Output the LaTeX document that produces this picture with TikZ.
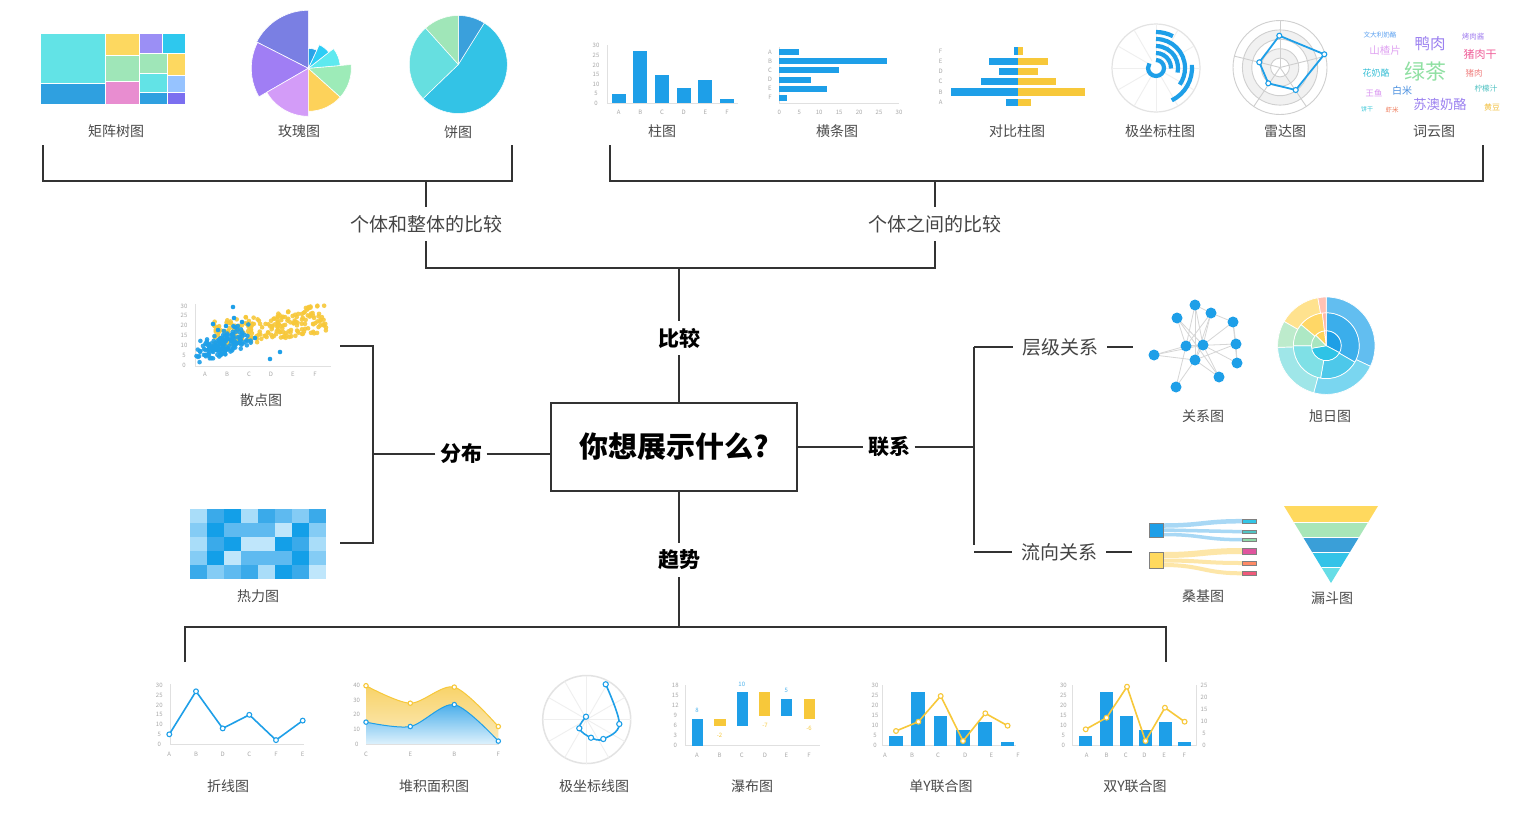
\documentclass[tikz,border=0pt]{standalone}
\usepackage{fontspec}
\setmainfont{Noto Sans CJK SC}
\usetikzlibrary{calc}
\definecolor{cb}{HTML}{1E9FE8}
\definecolor{cy}{HTML}{F7C83A}
\definecolor{axc}{HTML}{E0E0E0}
\definecolor{tkc}{HTML}{A8A8A8}
\definecolor{labc}{HTML}{4A4A4A}
\definecolor{subc}{HTML}{444444}
\definecolor{linec}{HTML}{333333}
\definecolor{tmA}{HTML}{62E3E6}\definecolor{tmB}{HTML}{2FA0E0}\definecolor{tmC}{HTML}{FDD860}
\definecolor{tmD}{HTML}{9B8FF5}\definecolor{tmE}{HTML}{2EC8EE}\definecolor{tmF}{HTML}{9FE6B8}
\definecolor{tmG}{HTML}{E88DD0}\definecolor{tmH}{HTML}{96C3FF}\definecolor{tmI}{HTML}{7B6FF0}
\definecolor{roA}{HTML}{7A7FE3}\definecolor{roB}{HTML}{A07EF4}\definecolor{roC}{HTML}{D39CF8}
\definecolor{roD}{HTML}{FDD25A}\definecolor{roE}{HTML}{9DEBB8}\definecolor{roF}{HTML}{5EE9EF}
\definecolor{roG}{HTML}{2DCDF6}\definecolor{roH}{HTML}{2AA3E8}
\definecolor{piA}{HTML}{33C3E6}\definecolor{piB}{HTML}{3AA0DC}\definecolor{piC}{HTML}{A0E6B8}\definecolor{piD}{HTML}{66DFE0}
\definecolor{hm1}{HTML}{139FE8}\definecolor{hm2}{HTML}{3AAAEA}\definecolor{hm3}{HTML}{5EBAF0}
\definecolor{hm4}{HTML}{84CCF5}\definecolor{hm5}{HTML}{A9DDF9}\definecolor{hm6}{HTML}{BFE6FB}
\definecolor{suA}{HTML}{1E9FE6}\definecolor{suB}{HTML}{2EC3E6}\definecolor{suC}{HTML}{A8E6C0}\definecolor{suD}{HTML}{FFD35A}\definecolor{suE}{HTML}{FFB0A0}
\definecolor{svA}{HTML}{3BAEEB}\definecolor{svB}{HTML}{4DC8EA}\definecolor{svC}{HTML}{7FE0E6}\definecolor{svD}{HTML}{ADE8C4}\definecolor{svE}{HTML}{FFD766}\definecolor{svF}{HTML}{FFB8A8}
\definecolor{swA}{HTML}{62BEF0}\definecolor{swB}{HTML}{7AD6F0}\definecolor{swC}{HTML}{9FE6E8}\definecolor{swD}{HTML}{BDEBCC}\definecolor{swE}{HTML}{FFE28E}\definecolor{swF}{HTML}{FFC2B4}
\definecolor{fuA}{HTML}{FFD95E}\definecolor{fuB}{HTML}{A8E6B8}\definecolor{fuC}{HTML}{3A9FD8}\definecolor{fuD}{HTML}{33C3E8}\definecolor{fuE}{HTML}{66DDE6}
\definecolor{skA}{HTML}{33C5E6}\definecolor{skB}{HTML}{4FC4C4}\definecolor{skC}{HTML}{8FD9A8}\definecolor{skD}{HTML}{E0559E}\definecolor{skE}{HTML}{FF8A65}\definecolor{skF}{HTML}{F05A7A}
\definecolor{flB}{HTML}{A8D8F5}\definecolor{flY}{HTML}{FDE6A8}
\definecolor{ayT}{HTML}{F8D266}\definecolor{ayB}{HTML}{FBEBBE}
\definecolor{abT}{HTML}{45ACEA}\definecolor{abB}{HTML}{DDF1FC}
\definecolor{rgr}{HTML}{F1F1F1}\definecolor{rln}{HTML}{CFCFCF}
\definecolor{pcirc}{HTML}{E3E3E3}\definecolor{spk}{HTML}{EFEFEF}
\definecolor{gedge}{HTML}{D6D6D6}
\newcommand\annsec[5]{\fill[#5, draw=white, line width=0.7] (#3:#2) arc[start angle=#3, end angle=#4, radius=#2] -- (#4:#1) arc[start angle=#4, end angle=#3, radius=#1] -- cycle;}
\tikzset{
 tk/.style={font=\fontsize{6}{6}\selectfont, text=tkc, inner sep=0pt},
 clab/.style={font=\fontsize{14}{16}\selectfont, text=labc, inner sep=0pt},
 sub/.style={font=\fontsize{19}{21}\selectfont, text=subc, inner xsep=3pt, inner ysep=8pt},
 cat/.style={font=\fontsize{21}{23}\selectfont\bfseries, text=black, inner xsep=4.5pt, inner ysep=7pt},
 rel/.style={font=\fontsize{19}{21}\selectfont, text=subc, inner xsep=9pt, inner ysep=4pt},
 titlebox/.style={draw=linec, line width=1.2pt, fill=white, minimum width=246pt, minimum height=88pt, font=\fontsize{29}{32}\selectfont\bfseries},
 mainline/.style={line width=1.8pt, draw=linec},
 thinline/.style={line width=1.1pt, draw=linec},
 axl/.style={draw=axc, line width=0.9pt},
 mkb/.style={fill=white, draw=cb, line width=1.1pt},
 mky/.style={fill=white, draw=cy, line width=1.1pt},
}
\begin{document}
\begin{tikzpicture}[x=1pt,y=-1pt]
\useasboundingbox (0,0) rectangle (1520,814);
\fill[white] (0,0) rectangle (1520,814);

% ===== Treemap
\foreach \xa/\ya/\xb/\yb/\cc in {40/33.3/105.5/83.5/tmA, 40/83.5/105.5/104/tmB, 105.5/33.3/139.7/55/tmC, 139.7/33.3/162/53.5/tmD, 162/33.3/185/53.5/tmE, 105.5/55/139.7/81.5/tmF, 105.5/81.5/139.7/104/tmG, 139.7/53.5/167.5/73.7/tmF, 167.5/53.5/185/75.5/tmC, 139.7/73.7/167.5/92/tmA, 167.5/75.5/185/92.5/tmH, 139.7/92/167.5/104/tmB, 167.5/92.5/185/104/tmI}
  \fill[\cc, draw=white, line width=0.9] (\xa,\ya) rectangle (\xb,\yb);
\node[clab] (l-jz) at (116,131) {矩阵树图};

% ===== Rose
\begin{scope}[shift={(308.3,68.3)},yscale=-1]
\foreach \a/\b/\r/\cc in {90/153/58/roA, 153/210/57/roB, 210/270/48/roC, 270/318/43/roD, 318/365/43/roE, 365/398/32/roF, 398/425/26/roG, 425/450/20/roH}
  \fill[\cc, draw=white, line width=0.6] (0,0) -- (\a:\r) arc[start angle=\a, end angle=\b, radius=\r] -- cycle;
\end{scope}
\node[clab] (l-mg) at (299,131) {玫瑰图};

% ===== Pie
\begin{scope}[shift={(458.3,64.5)},yscale=-1]
\foreach \a/\b/\cc in {-136/58/piA, 58/90/piB, 90/132/piC, 132/224/piD}
  \fill[\cc, draw=white, line width=0.5] (0,0) -- (\a:49) arc[start angle=\a, end angle=\b, radius=49] -- cycle;
\end{scope}
\node[clab] (l-bt) at (458,132) {饼图};

% ===== Column chart
\draw[axl] (607.7,45) -- (607.7,103.3) -- (738,103.3);
\foreach \v in {0,5,...,30} \node[tk] (cz-\v) at (596,{103.3-1.92*\v}) {\v};
\foreach \xa/\v in {611.7/5, 633.3/27, 654.7/15, 676.7/8, 698.3/12, 720/2} \fill[cb] (\xa,103.3) rectangle ++(14,{-1.92*\v});
\foreach \l/\xx in {A/618.7,B/640.3,C/662,D/683.7,E/705.3,F/727} \node[tk] (cx-\l) at (\xx,112.7) {\l};
\node[clab] (l-zt) at (662,131) {柱图};

% ===== Horizontal bars
\draw[axl] (779.3,47) -- (779.3,103.3) -- (899,103.3);
\foreach \l/\yy/\v in {A/52.3/5, B/61.3/27, C/70.3/15, D/79.7/8, E/88.7/12, F/97.7/2} {
  \fill[cb] (779.3,\yy-3) rectangle ++({3.99*\v},6);
  \node[tk] (hy-\l) at (770,\yy) {\l};}
\foreach \v in {0,5,...,30} \node[tk] (hx-\v) at ({779.3+3.99*\v},112.7) {\v};
\node[clab] (l-ht) at (837,131) {横条图};

% ===== Compare bars
\foreach \l/\yy/\bl/\yr in {F/51/1013.8/1022.5, E/61.7/988.5/1048, D/71.7/998.7/1038, C/81.3/981.3/1055.5, B/91.8/951.3/1085.4, A/102.2/1006/1030.5} {
  \fill[cb] (\bl,\yy-3.7) rectangle (1018,\yy+3.7);
  \fill[cy] (1018,\yy-3.7) rectangle (\yr,\yy+3.7);
  \node[tk] (dy-\l) at (940.6,\yy) {\l};}
\node[clab] (l-db) at (1017,131) {对比柱图};

% ===== Polar bar
\begin{scope}[shift={(1156,68)},yscale=-1]
\draw[pcirc, line width=1.2] (0,0) circle (44);
\foreach \a in {0,30,...,330} \draw[spk, line width=0.9] (\a:8) -- (\a:44);
\foreach \r/\s/\e in {36/90/62, 36/5/-64, 29/90/-35, 22/90/-12, 15/90/-2, 8/90/-215}
  \draw[cb, line width=4.2] (\s:\r) arc[start angle=\s, end angle=\e, radius=\r];
\end{scope}
\node[clab] (l-jzb) at (1160,131) {极坐标柱图};

% ===== Radar
\begin{scope}[shift={(1280,67.5)},yscale=-1]
\foreach \r/\cc in {47/white, 37.6/rgr, 28.2/white, 18.8/rgr, 9.4/white}
  \filldraw[fill=\cc, draw=rln, line width=0.9] (0,0) circle (\r);
\foreach \a in {90,14,-56,-124,166} \draw[rln, line width=0.9] (0,0) -- (\a:47);
\end{scope}
\draw[cb, line width=1.8] (1279.3,35.7) -- (1324.3,54.3) -- (1295.7,90) -- (1268.3,83.3) -- (1259.3,62.3) -- cycle;
\foreach \p in {(1279.3,35.7),(1324.3,54.3),(1295.7,90),(1268.3,83.3),(1259.3,62.3)} \filldraw[mkb] \p circle (2.5);
\node[clab] (l-ld) at (1285,131) {雷达图};

% ===== Word cloud
\foreach \nm/\xx/\yy/\s/\cc/\t in {
 w1/1380/35/6.6/5AA0F0/文大利奶酪, w2/1430/44/15.5/9B80F0/鸭肉, w3/1473/37/7.5/A380F0/烤肉酱,
 w4/1385/51/10.5/E0A4F2/山楂片, w5/1480/54/11/F0609A/猪肉干, w6/1425/72/21/8FE0A2/绿茶,
 w7/1376/73/9/3AC0D6/花奶酪, w8/1474/73/8.5/F08080/猪肉, w9/1374/93/8.3/D890F0/王鱼,
 w10/1402/91/10/4A90E0/白米, w11/1486/89/7.6/4AC0C0/柠檬汁, w12/1440/104/13.3/9B80F0/苏澳奶酪,
 w13/1367/109/6/3AC8D8/饼干, w14/1392/110/6.5/F08060/虾米, w15/1492/107/8/F2C040/黄豆}
 {\definecolor{wcc}{HTML}{\cc}\node[inner sep=0, text=wcc, font=\fontsize{\s}{\s}\selectfont] (\nm) at (\xx,\yy) {\t};}
\node[clab] (l-cy) at (1434,131) {词云图};

% ===== Top brackets and labels
\coordinate (A1) at (43,145); \coordinate (A2) at (43,181); \coordinate (A3) at (512,181); \coordinate (A4) at (512,145);
\coordinate (B1) at (610,145); \coordinate (B2) at (610,181); \coordinate (B3) at (1483,181); \coordinate (B4) at (1483,145);
\draw[mainline] (A1) -- (A2) -- (A3) -- (A4);
\draw[mainline] (B1) -- (B2) -- (B3) -- (B4);
\node[sub] (pw) at (426,224) {个体和整体的比较};
\node[sub] (gj) at (935,224) {个体之间的比较};
\draw[mainline] (pw.north |- A2) -- (pw.north);
\draw[mainline] (gj.north |- B2) -- (gj.north);
\coordinate (H1) at (426,268); \coordinate (H2) at (935,268);
\draw[mainline] (pw.south) -- (H1) -- (H2) -- (gj.south);

% ===== Center
\node[titlebox] (q) at (674,447) {你想展示什么?};
\node[cat] (bj) at (679,338) {比较};
\node[cat] (fb) at (461,454) {分布};
\node[cat] (lx) at (889,447) {联系};
\node[cat] (qs) at (679,560) {趋势};
\draw[mainline] (bj.north |- H1) -- (bj.north);
\draw[mainline] (bj.south) -- (bj.south |- q.north);
\draw[mainline] (qs.north |- q.south) -- (qs.north);
\coordinate (D1) at (185,627); \coordinate (D2) at (1166,627);
\coordinate (D0) at (185,662); \coordinate (D3) at (1166,662);
\draw[mainline] (qs.south) -- (qs.south |- D1);
\draw[mainline] (D0) -- (D1) -- (D2) -- (D3);
\coordinate (L1) at (340,346); \coordinate (L2) at (373,346); \coordinate (L3) at (373,543); \coordinate (L4) at (340,543);
\draw[mainline] (L1) -- (L2) -- (L3) -- (L4);
\draw[mainline] (fb.west) -- (fb.west -| L2);
\draw[mainline] (fb.east) -- (fb.east -| q.west);
\draw[thinline] (q.east) -- (lx.west);
\coordinate (R1) at (974,347); \coordinate (R2) at (974,545); \coordinate (R3) at (974,552);
\draw[thinline] (lx.east) -- (lx.east -| R1);
\draw[thinline] (R1) -- (R2);
\node[rel] (cj) at (1060,347) {层级关系};
\node[rel] (lxg) at (1059,552) {流向关系};
\coordinate (cje) at (1133,347); \coordinate (lxe) at (1132,552);
\draw[thinline] (R1) -- (cj.west);
\draw[thinline] (cj.east) -- (cje);
\draw[thinline] (R3) -- (lxg.west);
\draw[thinline] (lxg.east) -- (lxe);

% ===== Scatter
\draw[axl] (195,304) -- (195,366) -- (331,366);
\foreach \v in {0,5,...,30} \node[tk] (sy-\v) at (184,{365-1.97*\v}) {\v};
\foreach \l/\xx in {A/205,B/227,C/249,D/271,E/293,F/315} \node[tk] (sx-\l) at (\xx,374) {\l};
\pgfmathsetseed{11}
\foreach \k in {1,...,230}{
  \pgfmathsetmacro\u{rnd}
  \pgfmathsetmacro\px{214+113*\u}
  \pgfmathsetmacro\py{365-1.97*(8+9*\u+14*rnd)}
  \fill[cy, opacity=0.9] (\px,\py) circle (2.3);}
\foreach \k in {1,...,160}{
  \pgfmathsetmacro\u{rnd}
  \pgfmathsetmacro\px{196+42*\u+16*rnd}
  \pgfmathsetmacro\py{365-1.97*(1+9*\u+11*rnd)}
  \fill[cb, opacity=0.9] (\px,\py) circle (2.3);}
\foreach \p in {(233,307),(234,318),(213,324),(270,359),(226,326),(255,338),(218,330),(242,322),(280,352)} \fill[cb] \p circle (2.3);
\node[clab] (l-sd) at (261,400) {散点图};

% ===== Heat map
\foreach \row [count=\j] in {{5,2,1,5,2,3,4,2},{4,1,3,3,3,6,1,4},{5,2,1,6,6,1,2,5},{4,1,6,3,3,3,1,4},{2,4,3,2,5,1,2,6}}
  \foreach \v [count=\i] in \row
    \fill[hm\v] ({190+17*(\i-1)},{509+14*(\j-1)}) rectangle ++(17,14);
\node[clab] (l-rl) at (258,596) {热力图};

% ===== Graph
\foreach \nm/\xx/\yy in {n1/1195/305, n2/1177/318, n3/1211/313, n4/1233/322, n5/1186/346, n6/1203/345, n7/1236/344, n8/1154/355, n9/1195/360, n10/1237/363, n11/1219/377, n12/1176/387}
  \coordinate (\nm) at (\xx,\yy);
\foreach \a/\b in {n1/n5,n1/n6,n1/n9,n2/n5,n2/n6,n2/n11,n3/n6,n3/n5,n3/n9,n4/n7,n4/n10,n4/n6,n5/n8,n5/n6,n5/n7,n6/n9,n6/n10,n7/n9,n8/n9,n9/n12,n9/n11,n5/n12,n6/n11,n3/n4,n7/n10,n8/n6,n1/n3}
  \draw[gedge, line width=0.8] (\a) -- (\b);
\foreach \nm in {n1,n2,n3,n4,n5,n6,n7,n8,n9,n10,n11,n12} \fill[cb] (\nm) circle (5.5);
\node[clab] (l-gx) at (1203,416) {关系图};

% ===== Sunburst
\begin{scope}[shift={(1326.3,345.7)},yscale=-1]
\annsec{0.01}{15}{-28}{90}{suA}
\annsec{0.01}{15}{190}{332}{suB}
\annsec{0.01}{15}{135}{190}{suC}
\annsec{0.01}{15}{97}{135}{suD}
\annsec{0.01}{15}{90}{97}{suE}
\annsec{15}{33}{-30}{90}{svA}
\annsec{15}{33}{260}{330}{svB}
\annsec{15}{33}{180}{260}{svC}
\annsec{15}{33}{140}{180}{svD}
\annsec{15}{33}{97}{140}{svE}
\annsec{15}{33}{90}{97}{svF}
\annsec{33}{48.7}{-25}{90}{swA}
\annsec{33}{48.7}{255}{335}{swB}
\annsec{33}{48.7}{182}{255}{swC}
\annsec{33}{48.7}{150}{182}{swD}
\annsec{33}{48.7}{100}{150}{swE}
\annsec{33}{48.7}{90}{100}{swF}
\end{scope}
\node[clab] (l-xr) at (1330,416) {旭日图};

% ===== Sankey
\draw[flB, line width=4.5] (1163,525.5) .. controls (1202,525.5) and (1203,521.2) .. (1242,521.2);
\draw[flB, line width=3.5] (1163,530) .. controls (1202,530) and (1203,531.7) .. (1242,531.7);
\draw[flB, line width=3.5] (1163,534.5) .. controls (1202,534.5) and (1203,539.7) .. (1242,539.7);
\draw[flY, line width=6] (1163,555) .. controls (1202,555) and (1203,551) .. (1242,551);
\draw[flY, line width=4] (1163,560.5) .. controls (1202,560.5) and (1203,563) .. (1242,563);
\draw[flY, line width=4] (1163,565) .. controls (1202,565) and (1203,573.3) .. (1242,573.3);
\filldraw[fill=cb, draw=gray, line width=0.6] (1149,523) rectangle (1163,537);
\filldraw[fill=fuA, draw=gray, line width=0.6] (1149,552) rectangle (1163,568);
\foreach \ya/\yb/\cc in {519/523.5/skA, 530/533.5/skB, 538/541.5/skC, 548/554/skD, 561/565/skE, 571/575.5/skF}
  \filldraw[fill=\cc, draw=gray, line width=0.5] (1242,\ya) rectangle (1256,\yb);
\node[clab] (l-sj) at (1203,596) {桑基图};

% ===== Funnel
\begin{scope}
\clip (1284,506) -- (1378,506) -- (1331,583) -- cycle;
\foreach \ya/\yb/\cc in {506/522/fuA, 522/537/fuB, 537/552/fuC, 552/567/fuD, 567/584/fuE}
  \fill[\cc] (1280,\ya) rectangle (1380,\yb);
\foreach \yy in {522,537,552,567} \draw[white, line width=0.8] (1280,\yy) -- (1380,\yy);
\end{scope}
\node[clab] (l-ld2) at (1332,598) {漏斗图};

% ===== Line chart
\draw[axl] (170,684) -- (170,744) -- (304,744);
\foreach \v in {0,5,...,30} \node[tk] (ly-\v) at (159.3,{744-1.95*\v}) {\v};
\draw[cb, line width=1.6] (169.3,734.3) -- (196,691.3) -- (222.7,728.4) -- (249.3,714.8) -- (276,740.1) -- (302.7,720.6);
\foreach \p in {(169.3,734.3),(196,691.3),(222.7,728.4),(249.3,714.8),(276,740.1),(302.7,720.6)} \filldraw[mkb] \p circle (2.4);
\foreach \l/\xx in {A/169.3,B/196,D/222.7,C/249.3,F/276,E/302.7} \node[tk] (lx-\l) at (\xx,754.3) {\l};
\node[clab] (l-zx) at (228,786) {折线图};

% ===== Stacked area
\shade[top color=ayT, bottom color=ayB] (366,744) -- plot[smooth] coordinates {(366,685.7) (410.3,703.2) (454.3,687.1) (498.3,726.5)} -- (498.3,744) -- cycle;
\shade[top color=abT, bottom color=abB] (366,744) -- plot[smooth] coordinates {(366,722.1) (410.3,726.5) (454.3,704.6) (498.3,741.1)} -- (498.3,744) -- cycle;
\draw[cy, line width=1] plot[smooth] coordinates {(366,685.7) (410.3,703.2) (454.3,687.1) (498.3,726.5)};
\draw[cb, line width=1] plot[smooth] coordinates {(366,722.1) (410.3,726.5) (454.3,704.6) (498.3,741.1)};
\foreach \p in {(366,685.7),(410.3,703.2),(454.3,687.1),(498.3,726.5)} \filldraw[mky] \p circle (2.2);
\foreach \p in {(366,722.1),(410.3,726.5),(454.3,704.6),(498.3,741.1)} \filldraw[mkb] \p circle (2.2);
\draw[axl] (366,744) -- (499,744);
\foreach \v in {0,10,...,40} \node[tk] (ay-\v) at (356.7,{744-1.458*\v}) {\v};
\foreach \l/\xx in {C/366,E/410.3,B/454.3,F/498.3} \node[tk] (ax-\l) at (\xx,754.3) {\l};
\node[clab] (l-dj) at (434,786) {堆积面积图};

% ===== Polar line
\begin{scope}[shift={(586.7,719.5)},yscale=-1]
\draw[pcirc, line width=1.5] (0,0) circle (44);
\foreach \a in {0,30,...,330} \draw[spk, line width=0.9] (0,0) -- (\a:44);
\end{scope}
\draw[cb, line width=1.6] plot[smooth, tension=0.6] coordinates {(605.7,684.3) (619.3,724) (603.3,739) (591,737.7) (579.3,728.3) (586,716.7)};
\foreach \p in {(605.7,684.3),(619.3,724),(603.3,739),(591,737.7),(579.3,728.3),(586,716.7)} \filldraw[mkb] \p circle (2.6);
\node[clab] (l-jzx) at (594,786) {极坐标线图};

% ===== Waterfall
\draw[axl] (685.3,685) -- (685.3,745.7) -- (820.3,745.7);
\foreach \v in {0,3,...,18} \node[tk] (wy-\v) at (675.3,{745.7-3.33*\v}) {\v};
\fill[cb] (692,745.7) rectangle (703,719.1);
\fill[cy] (714.3,725.7) rectangle (725.5,719.1);
\fill[cb] (736.6,725.7) rectangle (747.8,692.4);
\fill[cy] (759,715.7) rectangle (770,692.4);
\fill[cb] (781.2,715.7) rectangle (792.4,699.1);
\fill[cy] (803.5,719.1) rectangle (814.7,699.1);
\foreach \nm/\xx/\yy/\t in {v1/697/710/8, v3/741.8/684.5/10, v5/786.4/690.7/5} \node[tk, text=cb!80!white] (\nm) at (\xx,\yy) {\t};
\foreach \nm/\xx/\yy/\t in {v2/719.5/735/-2, v4/765/725.7/-7, v6/809/728.3/-6} \node[tk, text=cy] (\nm) at (\xx,\yy) {\t};
\foreach \l/\xx in {A/697,B/719.5,C/741.8,D/764.9,E/786.4,F/809} \node[tk] (wx-\l) at (\xx,755) {\l};
\node[clab] (l-pb) at (752,786) {瀑布图};

% ===== Single Y combo
\draw[axl] (882,685) -- (882,745.7) -- (1016,745.7);
\foreach \v in {0,5,...,30} \node[tk] (sy1-\v) at (875,{745.7-2*\v}) {\v};
\foreach \xa/\xb/\v in {889/902.8/5, 911.3/925/27, 933.6/947.4/15, 956/969.7/8, 978.3/992/12, 1000.6/1014.3/2} \fill[cb] (\xa,745.7) rectangle (\xb,{745.7-2*\v});
\draw[cy, line width=1.6] (896,731) -- (918.4,721.7) -- (940.7,696) -- (963,741) -- (985.3,713.3) -- (1007.6,725.7);
\foreach \p in {(896,731),(918.4,721.7),(940.7,696),(963,741),(985.3,713.3),(1007.6,725.7)} \filldraw[mky] \p circle (2.4);
\foreach \l/\xx in {A/885,B/912,C/938,D/965.2,E/991.3,F/1018} \node[tk] (sx1-\l) at (\xx,755) {\l};
\node[clab] (l-dy) at (941,786) {单Y联合图};

% ===== Double Y combo
\draw[axl] (1072,685) -- (1072,745.7) -- (1196.5,745.7) -- (1196.5,685);
\foreach \v in {0,5,...,30} \node[tk] (dyl-\v) at (1063.4,{745.7-2*\v}) {\v};
\foreach \v in {0,5,...,25} \node[tk] (dyr-\v) at (1204,{745.7-2.4*\v}) {\v};
\foreach \xa/\xb/\v in {1079.4/1092.4/5, 1099.8/1112.8/27, 1120.3/1133.3/15, 1138.8/1151.9/8, 1159.3/1172.3/12, 1177.9/1190.9/2} \fill[cb] (\xa,745.7) rectangle (\xb,{745.7-2*\v});
\draw[cy, line width=1.6] (1085.7,729.3) -- (1106.5,717.7) -- (1127,686.7) -- (1145.5,741) -- (1164.9,707.7) -- (1184.6,721.7);
\foreach \p in {(1085.7,729.3),(1106.5,717.7),(1127,686.7),(1145.5,741),(1164.9,707.7),(1184.6,721.7)} \filldraw[mky] \p circle (2.4);
\foreach \l/\xx in {A/1086.8,B/1106.5,C/1125.8,D/1144.4,E/1164.1,F/1184.2} \node[tk] (dx-\l) at (\xx,755) {\l};
\node[clab] (l-sy) at (1135,786) {双Y联合图};
\end{tikzpicture}
\end{document}
